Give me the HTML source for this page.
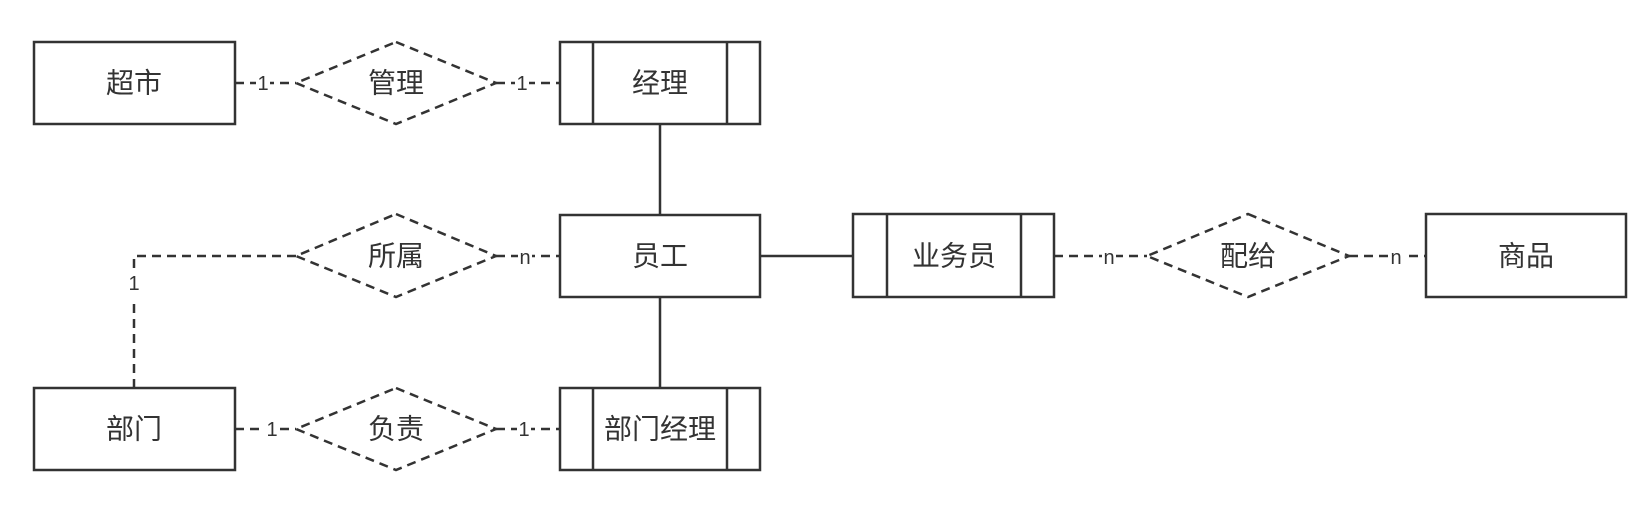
<!DOCTYPE html>
<html><head><meta charset="utf-8"><style>
html,body{margin:0;padding:0;background:#fff;}
svg{display:block;}
text{font-family:"Liberation Sans","Noto Sans CJK SC",sans-serif;fill:#333;}
.t{font-size:28px;text-anchor:middle;dominant-baseline:central;}
.l{font-size:20px;text-anchor:middle;dominant-baseline:central;}
</style></head><body>
<svg width="1650" height="510" viewBox="0 0 1650 510">
<g stroke="#333" stroke-width="2.5" fill="none">
<rect x="34" y="42" width="201" height="82"/>
<rect x="560" y="42" width="200" height="82"/>
<line x1="593" y1="42" x2="593" y2="124"/><line x1="727" y1="42" x2="727" y2="124"/>
<rect x="560" y="215" width="200" height="82"/>
<rect x="34" y="388" width="201" height="82"/>
<rect x="560" y="388" width="200" height="82"/>
<line x1="593" y1="388" x2="593" y2="470"/><line x1="727" y1="388" x2="727" y2="470"/>
<rect x="853" y="214" width="201" height="83"/>
<line x1="887" y1="214" x2="887" y2="297"/><line x1="1021" y1="214" x2="1021" y2="297"/>
<rect x="1426" y="214" width="200" height="83"/>
<line x1="660" y1="124" x2="660" y2="215"/>
<line x1="660" y1="297" x2="660" y2="388"/>
<line x1="760" y1="256" x2="853" y2="256"/>
</g>
<g stroke="#333" stroke-width="2.5" fill="none" stroke-dasharray="9 6">
<polygon points="396,42 496,83 396,124 296,83"/>
<polygon points="396,214 496,256 396,297 296,256"/>
<polygon points="396,388 496,429 396,470 296,429"/>
<polygon points="1248,214 1349,256 1248,297 1147,256"/>
<line x1="235" y1="83" x2="296" y2="83"/>
<line x1="496" y1="83" x2="560" y2="83"/>
<polyline points="296,256 134,256 134,388"/>
<line x1="496" y1="256" x2="560" y2="256"/>
<line x1="235" y1="429" x2="296" y2="429"/>
<line x1="496" y1="429" x2="560" y2="429"/>
<line x1="1054" y1="256" x2="1147" y2="256"/>
<line x1="1349" y1="256" x2="1426" y2="256"/>
</g>
<g fill="#fff">
<rect x="256" y="72" width="14" height="22"/>
<rect x="515" y="72" width="14" height="22"/>
<rect x="518" y="245" width="14" height="22"/>
<rect x="126" y="272" width="16" height="28"/>
<rect x="265" y="418" width="14" height="22"/>
<rect x="517" y="418" width="14" height="22"/>
<rect x="1102" y="245" width="14" height="22"/>
<rect x="1389" y="245" width="14" height="22"/>
</g>
<text class="l" x="263" y="84">1</text>
<text class="l" x="522" y="84">1</text>
<text class="l" x="525" y="258">n</text>
<text class="l" x="134" y="284">1</text>
<text class="l" x="272" y="430">1</text>
<text class="l" x="524" y="430">1</text>
<text class="l" x="1109" y="258">n</text>
<text class="l" x="1396" y="258">n</text>
<text class="t" x="134" y="83">超市</text>
<text class="t" x="396" y="83">管理</text>
<text class="t" x="660" y="83">经理</text>
<text class="t" x="396" y="256">所属</text>
<text class="t" x="660" y="256">员工</text>
<text class="t" x="134" y="429">部门</text>
<text class="t" x="396" y="429">负责</text>
<text class="t" x="660" y="429">部门经理</text>
<text class="t" x="954" y="256">业务员</text>
<text class="t" x="1248" y="256">配给</text>
<text class="t" x="1526" y="256">商品</text>
</svg>
</body></html>
